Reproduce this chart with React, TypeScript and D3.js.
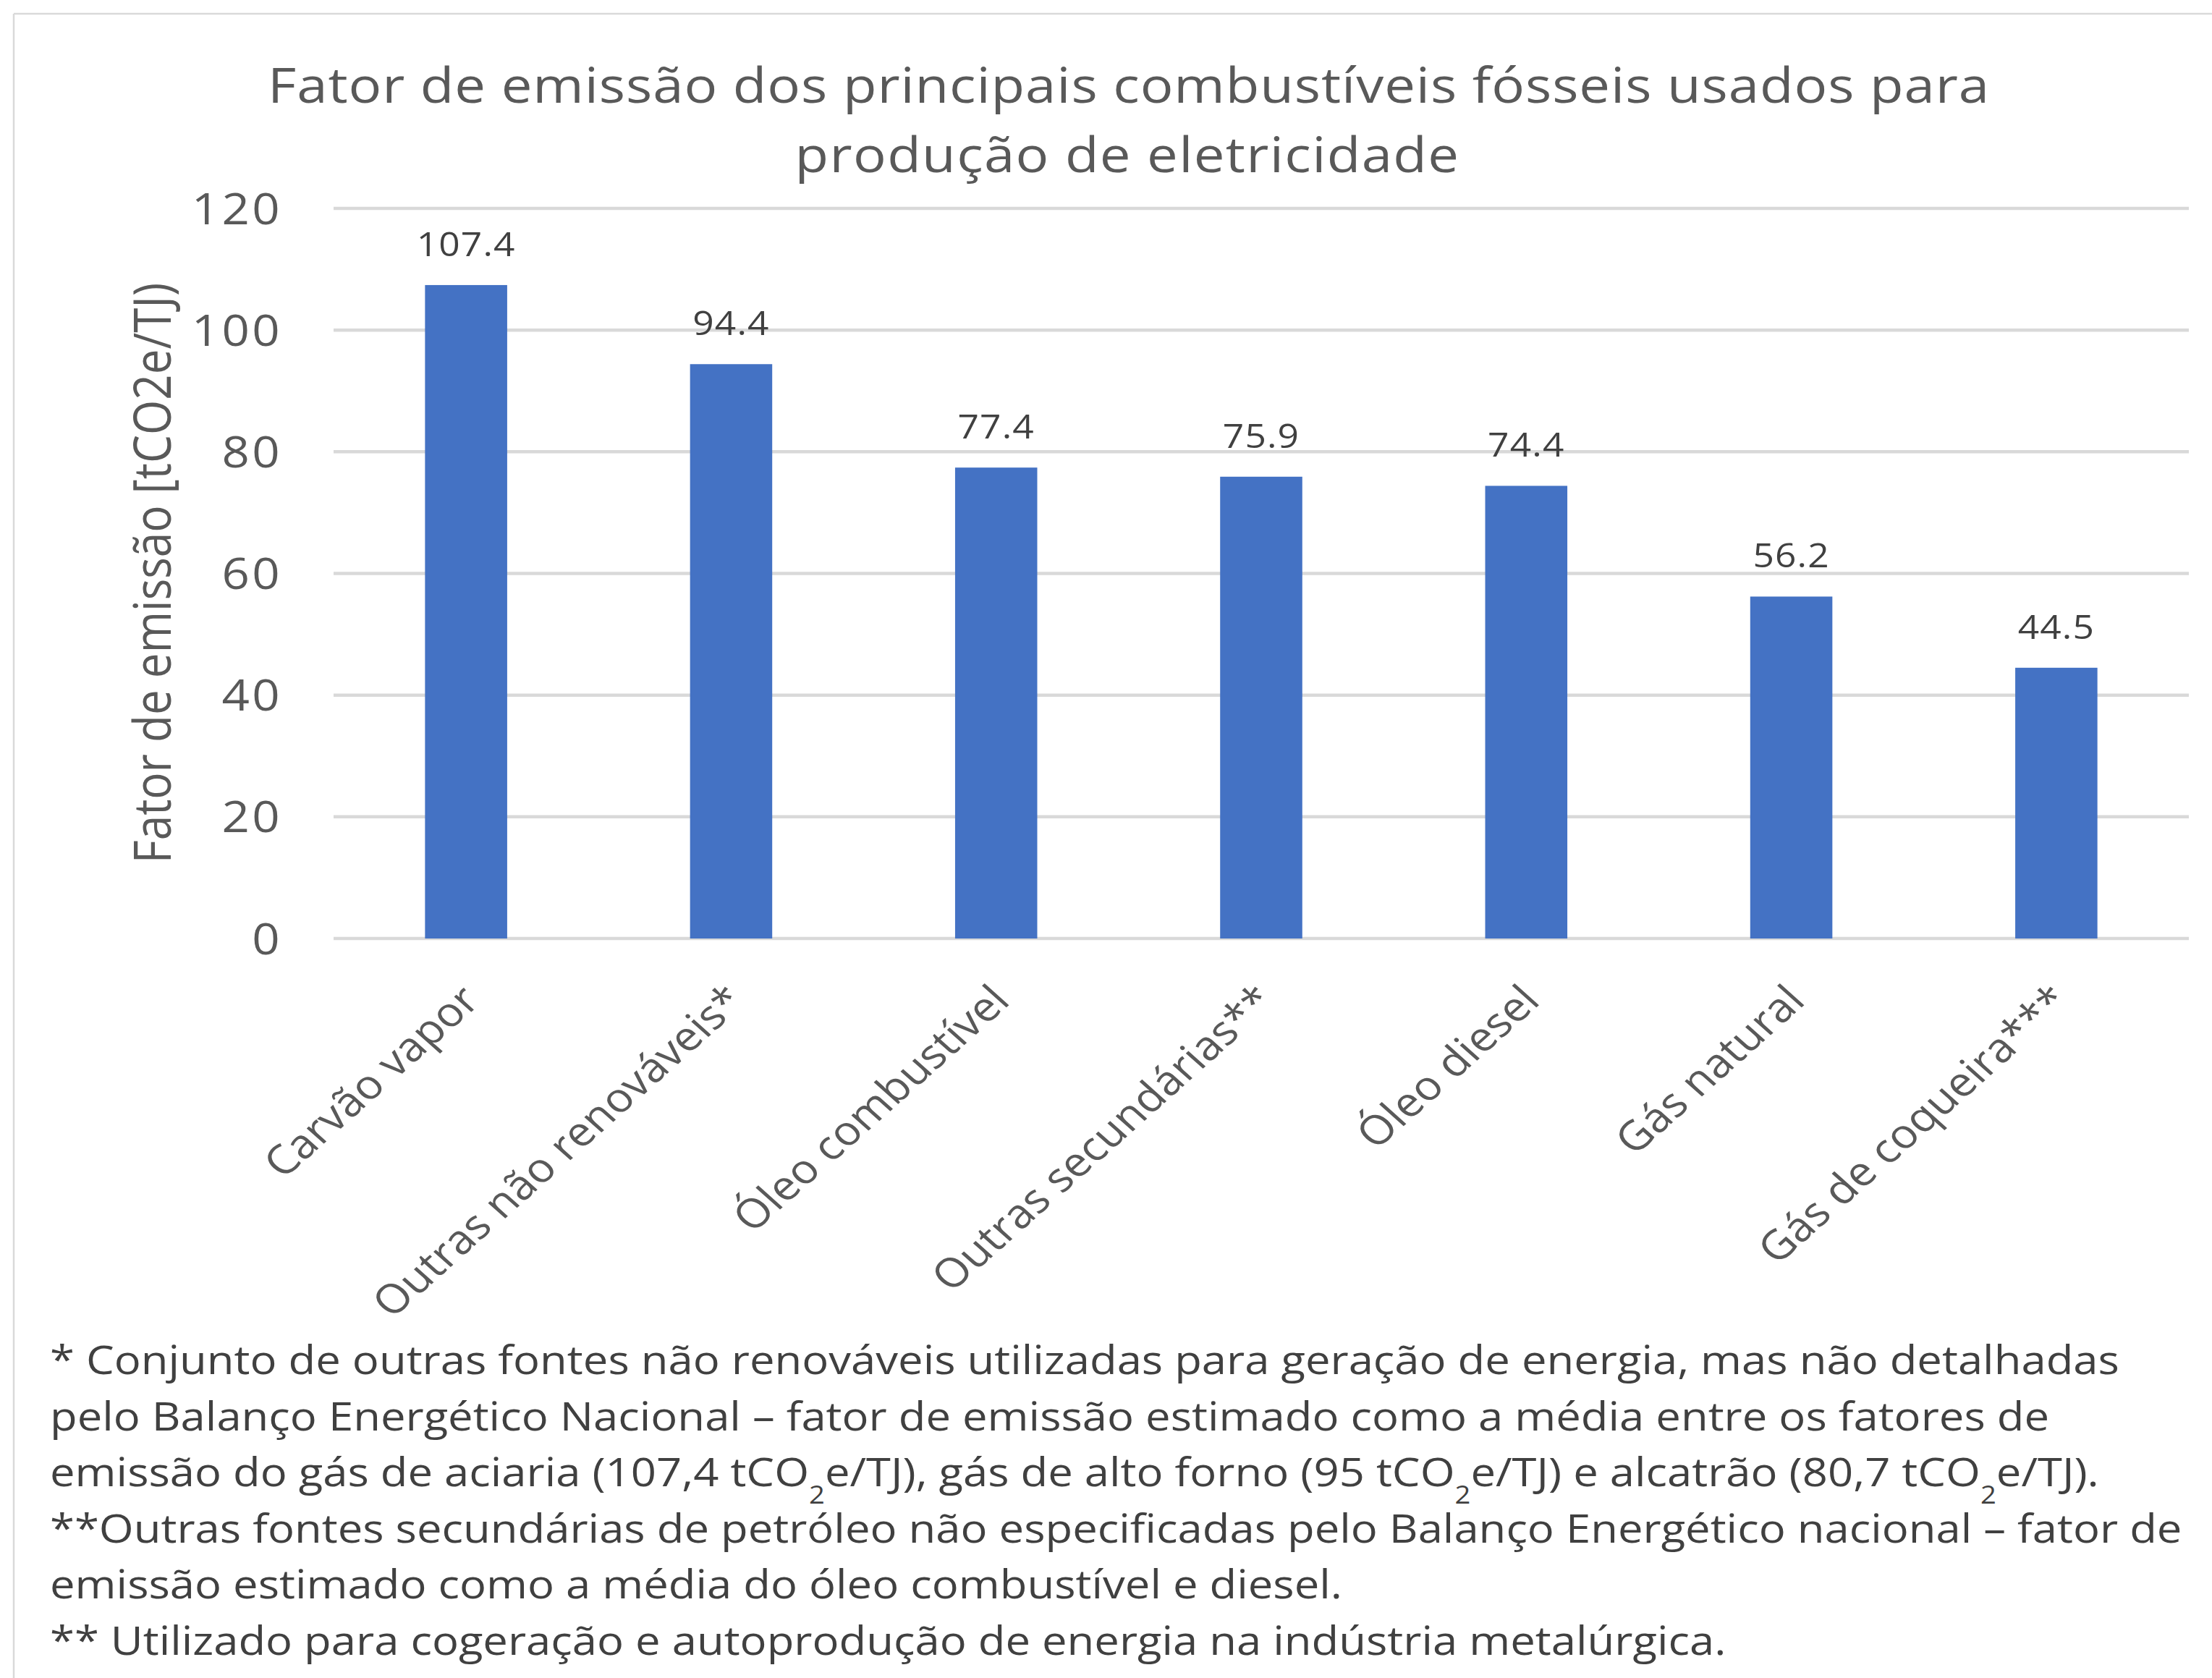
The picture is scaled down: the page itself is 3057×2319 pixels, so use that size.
import React from "react";
import * as d3 from "d3";

const categories = [
  "Carvão vapor",
  "Outras não renováveis*",
  "Óleo combustível",
  "Outras secundárias**",
  "Óleo diesel",
  "Gás natural",
  "Gás de coqueira***",
];
const values = [107.4, 94.4, 77.4, 75.9, 74.4, 56.2, 44.5];
const yTicks = [0, 20, 40, 60, 80, 100, 120];
const titleLines = [
  "Fator de emissão dos principais combustíveis fósseis usados para",
  "produção de eletricidade",
];
const yAxisTitle = "Fator de emissão [tCO2e/TJ)";
const footnotes = [
  "* Conjunto de outras fontes não renováveis utilizadas para geração de energia, mas não detalhadas",
  "pelo Balanço Energético Nacional – fator de emissão estimado como a média entre os fatores de",
  "emissão do gás de aciaria (107,4 tCO{2}e/TJ), gás de alto forno (95 tCO{2}e/TJ) e alcatrão (80,7 tCO{2}e/TJ).",
  "**Outras fontes secundárias de petróleo não especificadas pelo Balanço Energético nacional – fator de",
  "emissão estimado como a média do óleo combustível e diesel.",
  "** Utilizado para cogeração e autoprodução de energia na indústria metalúrgica.",
];

const W = 3057;
const H = 2319;
const FONT = "'Open Sans', 'Noto Sans', sans-serif";
const PLOT = { left: 461, right: 3025, top: 288, bottom: 1297 };
const SX = 1.12; // horizontal stretch of the reference image

function renderRich(line: string) {
  const parts = line.split(/\{(\d)\}/);
  return parts.map((p, i) =>
    i % 2 === 1 ? (
      <tspan key={i} baselineShift="sub" fontSize="0.62em">
        {p}
      </tspan>
    ) : (
      <tspan key={i}>{p}</tspan>
    )
  );
}

export default function App() {
  const x = d3
    .scaleBand<string>()
    .domain(categories)
    .range([PLOT.left, PLOT.right])
    .paddingInner(0.69)
    .paddingOuter(0.345);
  const y = d3.scaleLinear().domain([0, 120]).range([PLOT.bottom, PLOT.top]);
  const bw = x.bandwidth();

  return (
    <svg
      width={W}
      height={H}
      viewBox={`0 0 ${W} ${H}`}
      style={{ position: "absolute", left: 0, top: 0, background: "#ffffff" }}
      fontFamily={FONT}
    >
      <rect x={0} y={0} width={W} height={H} fill="#ffffff" />
      {/* chart border (top and left visible) */}
      <line x1={19} y1={19} x2={W} y2={19} stroke="#d9d9d9" strokeWidth={2.5} />
      <line x1={19} y1={19} x2={19} y2={H} stroke="#d9d9d9" strokeWidth={2.5} />

      {/* title */}
      <g fill="#595959" fontSize={68} textAnchor="middle">
        <text transform={`translate(1560, 142) scale(${SX},1)`} letterSpacing={0.8}>
          {titleLines[0]}
        </text>
        <text transform={`translate(1558, 238) scale(${SX},1)`} letterSpacing={1.2}>
          {titleLines[1]}
        </text>
      </g>

      {/* gridlines */}
      <g>
        {yTicks.map((t) => (
          <line
            key={t}
            x1={PLOT.left}
            x2={PLOT.right}
            y1={y(t)}
            y2={y(t)}
            stroke="#d9d9d9"
            strokeWidth={4.5}
          />
        ))}
      </g>

      {/* y tick labels */}
      <g fill="#595959" fontSize={60} textAnchor="end" letterSpacing={3}>
        {yTicks.map((t) => (
          <text key={t} transform={`translate(390, ${y(t)}) scale(${SX},1)`} dy="0.36em">
            {d3.format("d")(t)}
          </text>
        ))}
      </g>

      {/* y axis title */}
      <text
        transform={`translate(236, 792) scale(1.15,1) rotate(-90)`}
        textAnchor="middle"
        fill="#595959"
        fontSize={62}
      >
        {yAxisTitle}
      </text>

      {/* bars */}
      <g fill="#4472c4">
        {categories.map((c, i) => (
          <rect
            key={c}
            x={x(c)}
            y={y(values[i])}
            width={bw}
            height={y(0) - y(values[i])}
          />
        ))}
      </g>

      {/* value labels */}
      <g fill="#404040" fontSize={46} textAnchor="middle" letterSpacing={1}>
        {categories.map((c, i) => (
          <text
            key={c}
            transform={`translate(${(x(c) as number) + bw / 2}, ${y(values[i]) - 40}) scale(${SX},1)`}
          >
            {d3.format(".1f")(values[i])}
          </text>
        ))}
      </g>

      {/* category labels */}
      <g fill="#595959" fontSize={56} textAnchor="end">
        {categories.map((c) => (
          <text
            key={c}
            transform={`translate(${(x(c) as number) + bw / 2 + 6}, 1372) scale(${SX},1) rotate(-45)`}
            dy="0.35em"
          >
            {c}
          </text>
        ))}
      </g>

      {/* footnotes */}
      <g fill="#404040" fontSize={55}>
        {footnotes.map((f, i) => (
          <text key={i} transform={`translate(69, ${1899 + i * 77.6}) scale(${SX},1)`}>
            {renderRich(f)}
          </text>
        ))}
      </g>
    </svg>
  );
}
